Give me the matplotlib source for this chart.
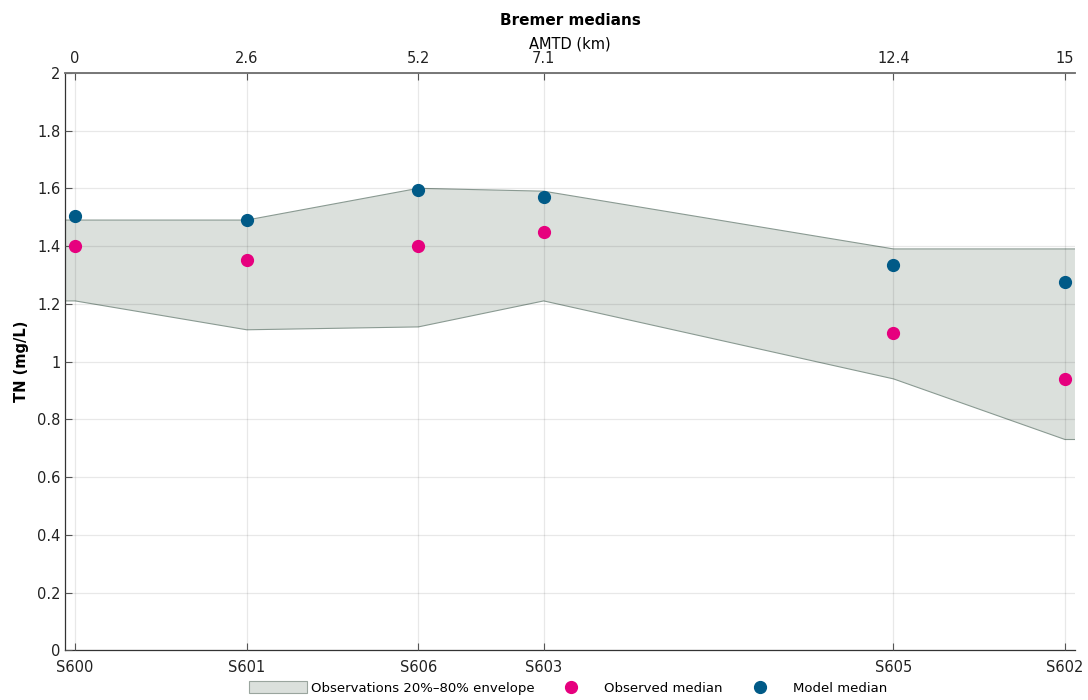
import numpy as np
import matplotlib
matplotlib.use('Agg')
import matplotlib.pyplot as plt
from matplotlib.patches import Patch
from matplotlib.lines import Line2D

plt.rcParams['font.family'] = ['DejaVu Sans']

# data
sites = ['S600', 'S601', 'S606', 'S603', 'S605', 'S602']
amtd = [0, 2.6, 5.2, 7.1, 12.4, 15]
amtd_labels = ['0', '2.6', '5.2', '7.1', '12.4', '15']
env_low = [1.21, 1.11, 1.12, 1.21, 0.94, 0.73]
env_high = [1.49, 1.49, 1.60, 1.59, 1.39, 1.39]
observed = [1.40, 1.35, 1.40, 1.45, 1.10, 0.94]
model = [1.505, 1.49, 1.595, 1.57, 1.335, 1.275]

FILL = '#dbe0dc'
EDGE = '#8a9a92'
OBS = '#e6007e'
MOD = '#005a87'

fig = plt.figure(figsize=(10.88, 7.0), dpi=100)
ax = fig.add_axes([0.060, 0.071, 0.928, 0.825])

xmin, xmax = -0.15, 15.15
# envelope padded flat to the axis edges
ex = [xmin] + amtd + [xmax]
elo = [env_low[0]] + env_low + [env_low[-1]]
ehi = [env_high[0]] + env_high + [env_high[-1]]
ax.fill_between(ex, elo, ehi, facecolor=FILL, edgecolor='none', zorder=1)
ax.plot(ex, elo, color=EDGE, lw=0.8, zorder=2)
ax.plot(ex, ehi, color=EDGE, lw=0.8, zorder=2)

ax.plot(amtd, observed, 'o', color=OBS, ms=8.5, zorder=4)
ax.plot(amtd, model, 'o', color=MOD, ms=8.5, zorder=4)

ax.set_xlim(xmin, xmax)
ax.set_ylim(0, 2)
ax.set_yticks(np.arange(0, 2.01, 0.2))
ax.set_yticklabels(['0', '0.2', '0.4', '0.6', '0.8', '1', '1.2', '1.4', '1.6', '1.8', '2'])
ax.set_xticks(amtd)
ax.set_xticklabels(sites)
ax.set_axisbelow(False)
ax.grid(True, color='black', alpha=0.09, lw=0.9)
ax.tick_params(direction='in', length=5, labelsize=10.5, color='#555555',
               labelcolor='#222222')
ax.tick_params(axis='x', pad=7)
ax.set_ylabel('TN (mg/L)', fontsize=10.5, fontweight='bold', labelpad=6)
for s in ['left', 'bottom']:
    ax.spines[s].set_color('#333333')
    ax.spines[s].set_linewidth(0.9)
ax.spines['right'].set_visible(False)
ax.spines['top'].set_color('#777777')
ax.spines['top'].set_linewidth(1.2)

top = ax.twiny()
top.set_xlim(xmin, xmax)
top.set_xticks(amtd)
top.set_xticklabels(amtd_labels)
top.tick_params(direction='in', length=5, labelsize=10.5, color='#555555',
                labelcolor='#222222', pad=5)
top.set_xlabel('AMTD (km)', fontsize=10.5, labelpad=2)
for s in ['left', 'right', 'bottom']:
    top.spines[s].set_visible(False)
top.spines['top'].set_color('#777777')
top.spines['top'].set_linewidth(1.2)
top.set_title('Bremer medians', fontsize=11, fontweight='bold', pad=8)

handles = [
    Patch(facecolor=FILL, edgecolor='#9aa59e', lw=0.8, label='Observations 20%\u201380% envelope'),
    Line2D([], [], ls='none', marker='o', color=OBS, ms=8.5, label='Observed median'),
    Line2D([], [], ls='none', marker='o', color=MOD, ms=8.5, label='Model median'),
]
fig.legend(handles=handles, loc='center', bbox_to_anchor=(0.522, 0.017), ncol=3,
           frameon=False, fontsize=9.5, handlelength=4.4, handleheight=1.0,
           columnspacing=0.6, handletextpad=0.3)

fig.savefig('out.png', dpi=100, facecolor='white')
